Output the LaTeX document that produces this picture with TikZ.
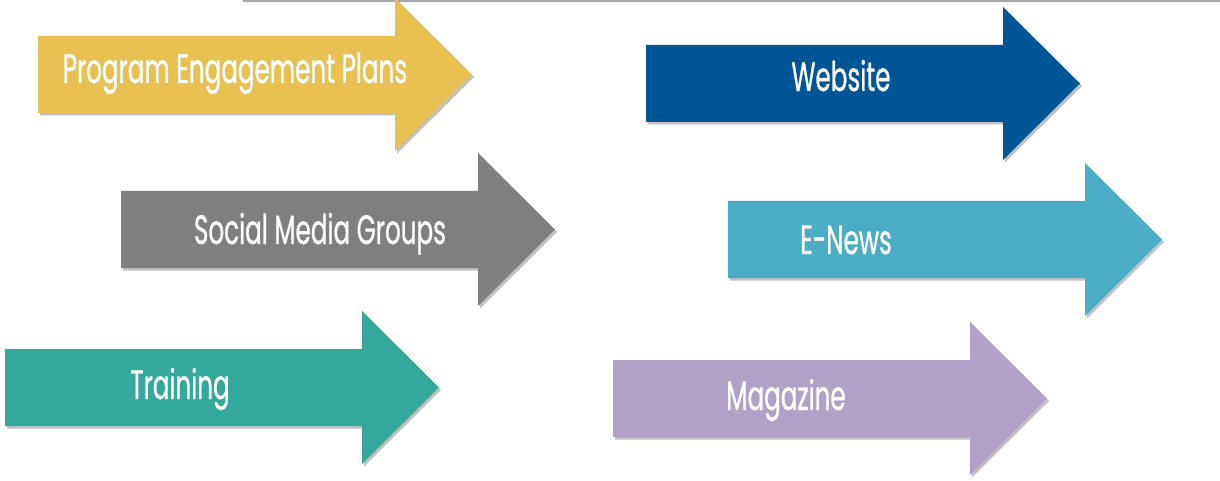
\documentclass[tikz,border=0pt]{standalone}
\usepackage{fontspec}
\setmainfont{Poppins}[FakeStretch=0.6, FakeBold=0.6]
\usetikzlibrary{shadows}
\definecolor{cyellow}{HTML}{E8C152}
\definecolor{cblue}{HTML}{005596}
\definecolor{cgray}{HTML}{7F7F7F}
\definecolor{clblue}{HTML}{4BACC6}
\definecolor{cteal}{HTML}{34A99B}
\definecolor{cpurple}{HTML}{B1A1C8}
\tikzset{
  arrowbody/.style={draw=none, drop shadow={shadow xshift=2pt, shadow yshift=-2.5pt, opacity=0.35, fill=black!70}},
  label/.style={text=white, font=\fontsize{41}{43}\selectfont, inner sep=0pt, anchor=base}
}
\newcommand\bigarrow[3]{%
  \fill[arrowbody, fill=#3] (#1,#2) -- ++(357,0) -- ++(0,-38) -- ++(77,76.5) -- ++(-77,76.5) -- ++(0,-38) -- ++(-357,0) -- cycle;}
\begin{document}
\begin{tikzpicture}[x=1pt,y=-1pt]
\useasboundingbox (0,0) rectangle (1220,481);
\draw[line width=1.5pt, draw=black!35, drop shadow={shadow xshift=0pt, shadow yshift=-2pt, opacity=0.3}] (243,0.8) -- (1220,0.8);
\bigarrow{38}{36}{cyellow}
\bigarrow{646}{45}{cblue}
\bigarrow{121}{191}{cgray}
\bigarrow{728}{201}{clblue}
\bigarrow{5}{349}{cteal}
\bigarrow{613}{360}{cpurple}
\node[label] (pep) at (235,83) {Program Engagement Plans};
\node[label] (web) at (841,91) {Website};
\node[label] (smg) at (320,244) {Social Media Groups};
\node[label] (enews) at (846,254) {E-News};
\node[label] (train) at (180,399) {Training};
\node[label] (mag) at (786,410) {Magazine};
\end{tikzpicture}
\end{document}
